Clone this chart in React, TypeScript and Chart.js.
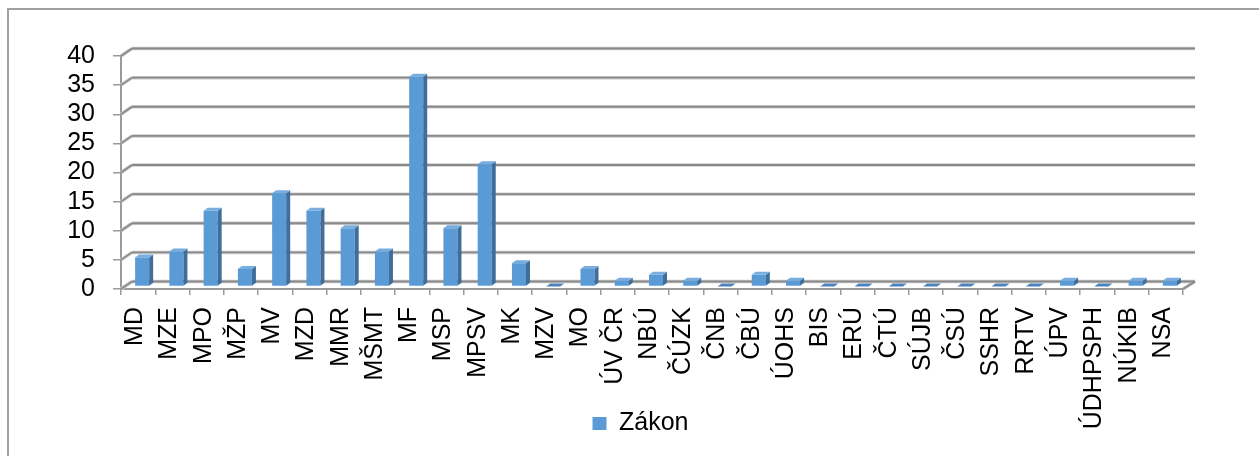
import React, { useEffect, useRef } from 'react';
import { Chart, registerables } from 'chart.js';

Chart.register(...registerables);

const categories = ['MD', 'MZE', 'MPO', 'MŽP', 'MV', 'MZD', 'MMR', 'MŠMT', 'MF', 'MSP', 'MPSV', 'MK', 'MZV', 'MO', 'ÚV ČR', 'NBÚ', 'ČÚZK', 'ČNB', 'ČBÚ', 'ÚOHS', 'BIS', 'ERÚ', 'ČTÚ', 'SÚJB', 'ČSÚ', 'SSHR', 'RRTV', 'ÚPV', 'ÚDHPSPH', 'NÚKIB', 'NSA'];
const zakonValues = [5, 6, 13, 3, 16, 13, 10, 6, 36, 10, 21, 4, 0, 3, 1, 2, 1, 0, 2, 1, 0, 0, 0, 0, 0, 0, 0, 1, 0, 1, 1];
const seriesLabel = 'Zákon';
const yMin = 0;
const yMax = 40;
const yStep = 5;

const W = 1259;
const H = 456;
const FONT = "'Liberation Sans', Arial, sans-serif";

const FRONT = '#5B9BD5';
const SIDE = '#3F6E9C';
const TOP = '#77ADDF';
const FLAT = '#4C82BA';
const GRID = '#8A8A8A';
const GRID_HALO = '#CCCCCC';
const AXIS = '#9A9A9A';

const BAR_DX = 4;
const BAR_DY = 2.5;
const BACK_DX = 11;
const BACK_DY = 7.5;
const DEPTH_X = 4;
const DEPTH_Y = 3;

function line(ctx: CanvasRenderingContext2D, x1: number, y1: number, x2: number, y2: number) {
  ctx.beginPath();
  ctx.moveTo(x1, y1);
  ctx.lineTo(x2, y2);
  ctx.stroke();
}

const frame3d = {
  id: 'frame3d',
  beforeDraw(chart: any) {
    const ctx: CanvasRenderingContext2D = chart.ctx;
    ctx.save();
    ctx.fillStyle = '#ffffff';
    ctx.fillRect(0, 0, chart.width, chart.height);
    ctx.strokeStyle = '#A0A0A0';
    ctx.lineWidth = 2;
    line(ctx, 7, 9, chart.width + 2, 9);
    line(ctx, 8, 9, 8, chart.height + 2);
    ctx.restore();
  },
  beforeDatasetsDraw(chart: any) {
    const ctx: CanvasRenderingContext2D = chart.ctx;
    const { left, right, bottom } = chart.chartArea;
    const y = chart.scales.y;
    ctx.save();
    ctx.lineCap = 'butt';
    for (const pass of [0, 1]) {
      ctx.strokeStyle = pass === 0 ? GRID_HALO : GRID;
      ctx.lineWidth = pass === 0 ? 3.5 : 1.8;
      for (let v = yMin; v <= yMax; v += yStep) {
        const yf = y.getPixelForValue(v);
        const yb = yf - BACK_DY;
        line(ctx, left, yf, left + BACK_DX, yb);
        line(ctx, left + BACK_DX, yb, right + BACK_DX + 1, yb);
      }
      line(ctx, right, bottom, right + BACK_DX + 1, bottom - BACK_DY);
    }
    ctx.restore();
    ctx.save();
    ctx.translate(BAR_DX, -BAR_DY);
  },
  afterDatasetsDraw(chart: any) {
    const ctx: CanvasRenderingContext2D = chart.ctx;
    const meta = chart.getDatasetMeta(0);
    meta.data.forEach((bar: any, i: number) => {
      const { x, y, base, width } = bar.getProps(['x', 'y', 'base', 'width'], true);
      const l = x - width / 2;
      const r = x + width / 2;
      if (base - y > 0.5) {
        ctx.fillStyle = SIDE;
        ctx.beginPath();
        ctx.moveTo(r, y);
        ctx.lineTo(r + DEPTH_X, y - DEPTH_Y);
        ctx.lineTo(r + DEPTH_X, base - DEPTH_Y);
        ctx.lineTo(r, base);
        ctx.closePath();
        ctx.fill();
      }
      ctx.fillStyle = zakonValues[i] === 0 ? FLAT : TOP;
      ctx.beginPath();
      ctx.moveTo(l, y);
      ctx.lineTo(r, y);
      ctx.lineTo(r + DEPTH_X, y - DEPTH_Y);
      ctx.lineTo(l + DEPTH_X, y - DEPTH_Y);
      ctx.closePath();
      ctx.fill();
    });
    ctx.restore();
  },
};

export default function App() {
  const ref = useRef<HTMLCanvasElement | null>(null);

  useEffect(() => {
    if (!ref.current) return;
    Chart.defaults.font.family = FONT;
    const chart = new Chart(ref.current, {
      type: 'bar',
      data: {
        labels: categories,
        datasets: [
          {
            label: seriesLabel,
            data: zakonValues,
            backgroundColor: FRONT,
            borderWidth: 0,
            barPercentage: 0.41,
            categoryPercentage: 1,
            clip: false as any,
          },
        ],
      },
      options: {
        responsive: false,
        animation: false,
        devicePixelRatio: 1,
        events: [],
        layout: { padding: { left: 98, right: 76, top: 56, bottom: 10 } },
        plugins: {
          tooltip: { enabled: false },
          legend: {
            position: 'bottom',
            labels: {
              boxWidth: 14,
              boxHeight: 13,
              padding: 10,
              color: '#000',
              font: { size: 25, family: FONT },
            },
          },
        },
        scales: {
          x: {
            afterFit(scale: any) {
              scale.height = 112;
              scale._computeLabelArea = () => undefined;
            },
            grid: {
              display: true,
              drawOnChartArea: false,
              drawTicks: true,
              tickLength: 6,
              color: AXIS,
              lineWidth: 1.5,
              offset: true,
            },
            border: { display: true, color: AXIS, width: 2 },
            ticks: {
              autoSkip: false,
              minRotation: 90,
              maxRotation: 90,
              padding: 12,
              labelOffset: -3,
              color: '#000',
              font: { size: 25, family: FONT },
            },
          },
          y: {
            min: yMin,
            max: yMax,
            afterFit(scale: any) {
              scale.width = 23;
              scale._computeLabelArea = () => undefined;
            },
            grid: {
              display: true,
              drawOnChartArea: false,
              drawTicks: true,
              tickLength: 8,
              color: AXIS,
              lineWidth: 1.5,
            },
            border: { display: true, color: AXIS, width: 2 },
            ticks: {
              stepSize: yStep,
              autoSkip: false,
              padding: 18,
              color: '#000',
              font: { size: 25, family: FONT },
            },
          },
        },
      },
      plugins: [frame3d],
    });
    return () => chart.destroy();
  }, []);

  return (
    <div style={{ position: 'fixed', left: 0, top: 0, width: W, height: H, background: '#fff' }}>
      <canvas ref={ref} width={W} height={H} style={{ display: 'block', width: W, height: H }} />
    </div>
  );
}
